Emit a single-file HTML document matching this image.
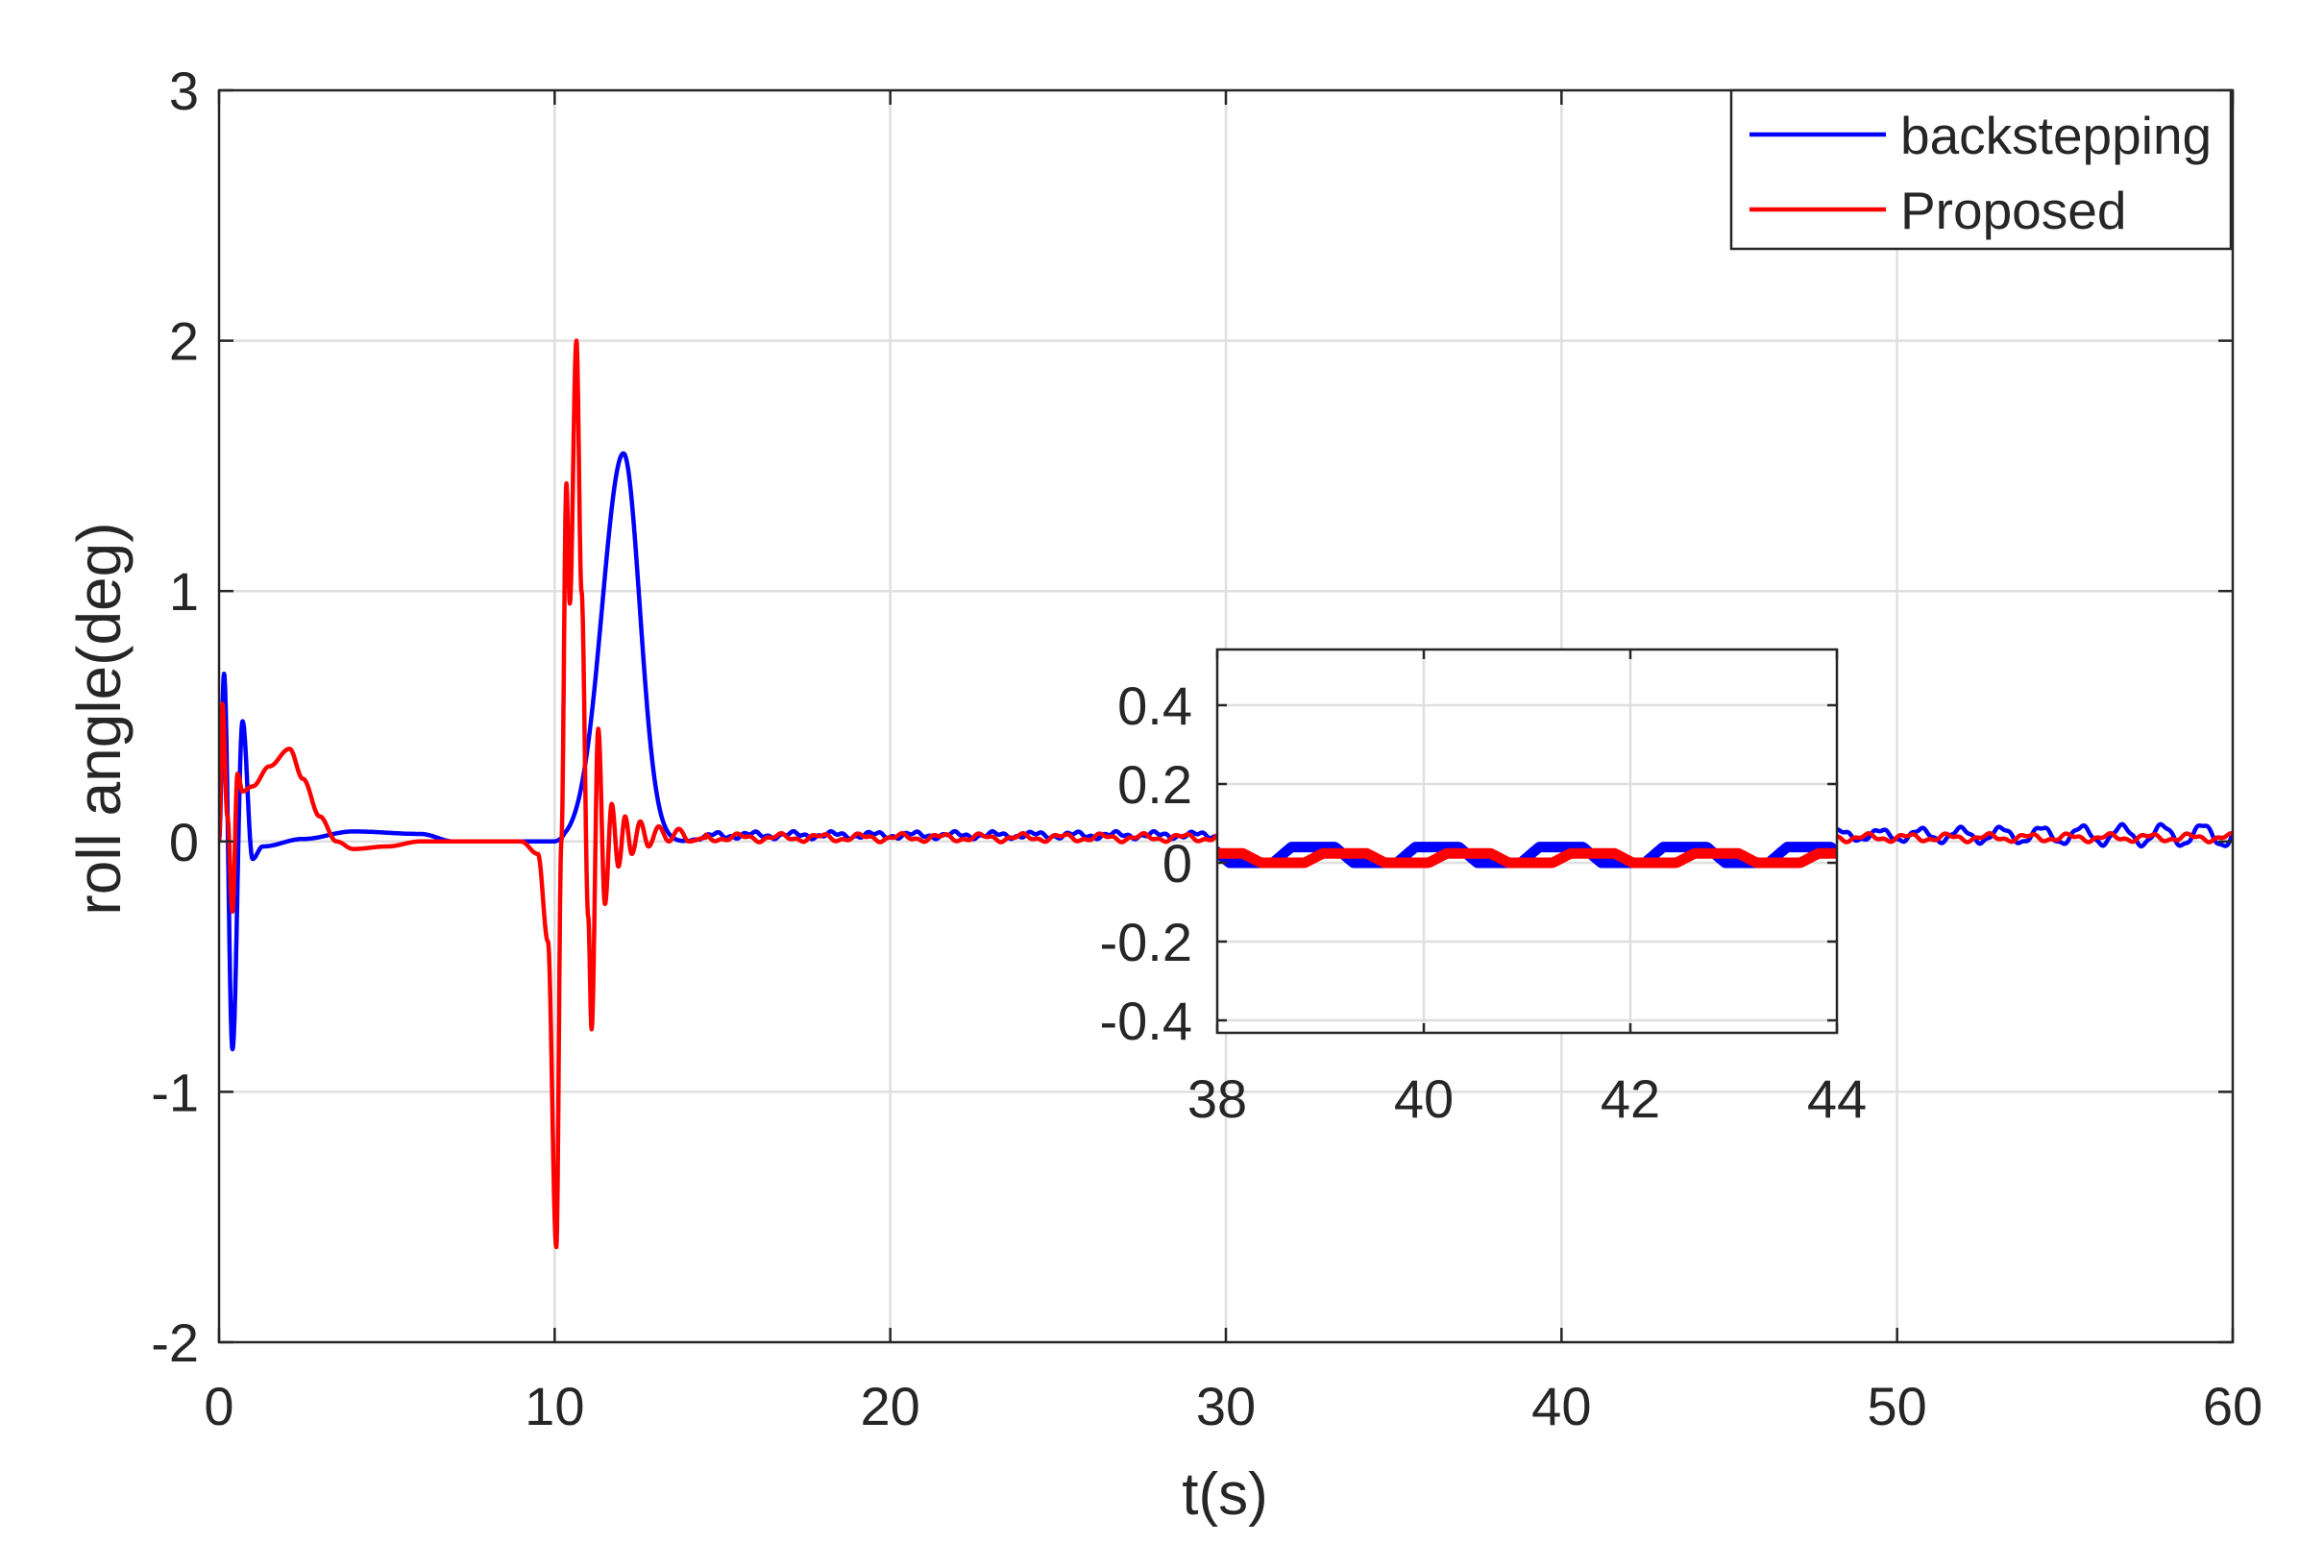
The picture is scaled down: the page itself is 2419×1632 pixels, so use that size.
<!DOCTYPE html>
<html><head><meta charset="utf-8"><style>
html,body{margin:0;padding:0;background:#fff}
svg{display:block}
text{font-family:"Liberation Sans",sans-serif;fill:#262626}
</style></head><body>
<svg id="s" width="2419" height="1632" viewBox="0 0 2419 1632" xmlns="http://www.w3.org/2000/svg">
<rect width="2419" height="1632" fill="#fff"/>
<g id="grid" stroke="#dfdfdf" stroke-width="2.5"></g>
<defs>
<clipPath id="mc"><rect x="228" y="94" width="2096" height="1303"/></clipPath>
<clipPath id="ic"><rect x="1267" y="676" width="645" height="399"/></clipPath>
</defs>
<g clip-path="url(#mc)">
<path id="pb" fill="none" stroke="#0000ff" stroke-width="4.5" stroke-linejoin="round"/>
<path id="pr" fill="none" stroke="#ff0000" stroke-width="4.5" stroke-linejoin="round"/>
</g>
<rect x="228" y="94" width="2096" height="1303" fill="none" stroke="#262626" stroke-width="2.5"/>
<g id="ticks" stroke="#262626" stroke-width="2.5"></g>
<g id="labels" font-size="56"></g>
<text x="1275" y="1576" font-size="62" text-anchor="middle">t(s)</text>
<text transform="translate(125,748) rotate(-90)" font-size="64" text-anchor="middle">roll angle(deg)</text>
<rect x="1802" y="94" width="520" height="165" fill="#fff" stroke="#262626" stroke-width="2.5"/>
<line x1="1821" y1="140" x2="1963" y2="140" stroke="#0000ff" stroke-width="4.5"/>
<line x1="1821" y1="218" x2="1963" y2="218" stroke="#ff0000" stroke-width="4.5"/>
<text x="1978" y="160" font-size="55">backstepping</text>
<text x="1978" y="238" font-size="55">Proposed</text>
<rect x="1267" y="676" width="645" height="399" fill="#fff"/>
<g id="igrid" stroke="#dfdfdf" stroke-width="2.5"></g>
<g clip-path="url(#ic)">
<path id="ib" fill="none" stroke="#0000ff" stroke-width="11" stroke-linejoin="round"/>
<path id="ir" fill="none" stroke="#ff0000" stroke-width="11" stroke-linejoin="round"/>
</g>
<rect x="1267" y="676" width="645" height="399" fill="none" stroke="#262626" stroke-width="2.5"/>
<g id="iticks" stroke="#262626" stroke-width="2.5"></g>
<g id="ilabels" font-size="56"></g>
</svg>
<script>
var NS="http://www.w3.org/2000/svg";
function X(t){return 228+t*2096/60;}
function Y(v){return 875.8-v*260.6;}
function el(p,tag,a,txt){var e=document.createElementNS(NS,tag);for(var k in a)e.setAttribute(k,a[k]);if(txt!==undefined)e.textContent=txt;document.getElementById(p).appendChild(e);}
for(var i=1;i<6;i++){var x=X(i*10);el("grid","line",{x1:x,y1:94,x2:x,y2:1397});}
for(var v=-1;v<=2;v++){var y=Y(v);el("grid","line",{x1:228,y1:y,x2:2324,y2:y});}
for(var i=0;i<=6;i++){var x=X(i*10);el("ticks","line",{x1:x,y1:1397,x2:x,y2:1382});el("ticks","line",{x1:x,y1:94,x2:x,y2:109});
 el("labels","text",{x:x,y:1483,"text-anchor":"middle"},String(i*10));}
for(var v=-2;v<=3;v++){var y=Y(v);el("ticks","line",{x1:228,y1:y,x2:243,y2:y});el("ticks","line",{x1:2324,y1:y,x2:2309,y2:y});
 el("labels","text",{x:207,y:y+20,"text-anchor":"end"},String(v));}
function interp(k,t){for(var i=0;i<k.length-1;i++){if(t>=k[i][0]&&t<=k[i+1][0]){var a=k[i],b=k[i+1];var f=(t-a[0])/(b[0]-a[0]);f=(1-Math.cos(Math.PI*f))/2;return a[1]+(b[1]-a[1])*f;}}return k[k.length-1][1];}
var kb=[[0,0],[0.15,0.67],[0.4,-0.83],[0.7,0.48],[1.0,-0.07],[1.3,-0.02],[2.5,0.01],[4,0.04],[6,0.03],[7,0.0],[10,0.0]];
var kr=[[0,0],[0.1,0.55],[0.25,0.1],[0.4,-0.28],[0.55,0.27],[0.7,0.2],[1.0,0.22],[1.5,0.3],[2.1,0.37],[2.5,0.25],[3,0.1],[3.5,0.0],[4,-0.03],[5,-0.02],[6,0],[9,0],[9.5,-0.05],[9.8,-0.4],[10.05,-1.62],[10.2,0],[10.35,1.43],[10.45,0.95],[10.65,2.0],[10.8,1.0],[11.0,-0.3],[11.1,-0.75],[11.3,0.45],[11.5,-0.25],[11.7,0.15],[11.9,-0.1],[12.1,0.1],[12.3,-0.05],[12.55,0.08],[12.8,-0.02],[13.1,0.06],[13.4,0.0],[13.7,0.05],[14,0.0],[14.5,0.015]];
function tail(t){var a=0.01+(t>44?(t-44)/16*0.035:0);return 0.025+a*Math.sin(2*Math.PI*t/1.2)+0.006*Math.sin(2*Math.PI*t/0.37);}
function fb(t){if(t<10)return interp(kb,t);
 var s=t<12.05?0.85:0.65;var g=1.55*Math.exp(-Math.pow((t-12.05)/s,2)*0.9);
 if(t<10.3)g*= (t-10)/0.3;
 var w=Math.min(1,Math.max(0,(t-13.8)/1.0));return (1-w)*g+w*tail(t);}
function fr(t){if(t<14.5)return interp(kr,t);return 0.015+0.012*Math.sin(2*Math.PI*t/1.2+2)+0.006*Math.sin(2*Math.PI*t/0.45);}
function path(f,t0,t1,dt,xf,yf){var d="";for(var t=t0;t<=t1+1e-9;t+=dt){d+=(d?"L":"M")+xf(t).toFixed(1)+","+yf(f(t)).toFixed(1);}return d;}
document.getElementById("pb").setAttribute("d",path(fb,0,60,0.01,X,Y));
document.getElementById("pr").setAttribute("d",path(fr,0,60,0.01,X,Y));
function IX(t){return 1267+(t-38)*107.5;}
function IY(v){return 898-v*410;}
for(var t=40;t<=42;t+=2){el("igrid","line",{x1:IX(t),y1:676,x2:IX(t),y2:1075});}
[0.4,0.2,0,-0.2,-0.4].forEach(function(v){el("igrid","line",{x1:1267,y1:IY(v),x2:1912,y2:IY(v)});
 el("iticks","line",{x1:1267,y1:IY(v),x2:1277,y2:IY(v)});el("iticks","line",{x1:1912,y1:IY(v),x2:1902,y2:IY(v)});
 el("ilabels","text",{x:1241,y:IY(v)+20,"text-anchor":"end"},String(v));});
for(var t=38;t<=44;t+=2){el("iticks","line",{x1:IX(t),y1:1075,x2:IX(t),y2:1065});el("iticks","line",{x1:IX(t),y1:676,x2:IX(t),y2:686});
 el("ilabels","text",{x:IX(t),y:1163,"text-anchor":"middle"},String(t));}
function sq(t,p,ph){var s=Math.sin(2*Math.PI*t/p+ph);return Math.max(-1,Math.min(1,s*2.2));}
function ibf(t){return 0.02+0.02*sq(t,1.2,-1.2);}
function irf(t){return 0.012+0.012*sq(t,1.2,-2.8);}
document.getElementById("ib").setAttribute("d",path(ibf,37.9,44.1,0.01,IX,IY));
document.getElementById("ir").setAttribute("d",path(irf,37.9,44.1,0.01,IX,IY));
</script>
</body></html>
